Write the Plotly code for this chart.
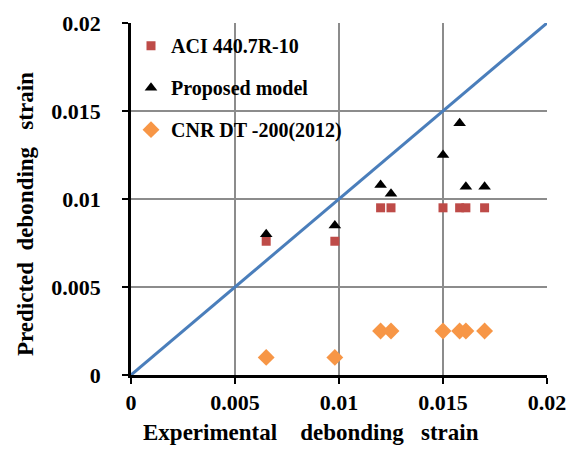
import plotly.graph_objects as go

exp_strain = [0.0065, 0.0098, 0.012, 0.0125, 0.015, 0.0158, 0.0161, 0.017]
aci_pred = [0.0076, 0.0076, 0.0095, 0.0095, 0.0095, 0.0095, 0.0095, 0.0095]
proposed_pred = [0.0080, 0.0085, 0.0108, 0.0103, 0.0125, 0.0143, 0.0107, 0.0107]
cnr_pred = [0.0010, 0.0010, 0.0025, 0.0025, 0.0025, 0.0025, 0.0025, 0.0025]
line_x = [0, 0.02]
line_y = [0, 0.02]
tick_vals = [0, 0.005, 0.01, 0.015, 0.02]

FONT = "Liberation Serif"

fig = go.Figure()
fig.add_trace(go.Scatter(x=line_x, y=line_y, mode="lines",
                         line=dict(color="#4A7EBB", width=3), showlegend=False))
fig.add_trace(go.Scatter(x=exp_strain, y=aci_pred, mode="markers", name="ACI 440.7R-10",
                         legendgroup="a",
                         marker=dict(symbol="square", size=9, color="#BE4B48")))
fig.add_trace(go.Scatter(x=exp_strain, y=proposed_pred, mode="markers", name="Proposed model",
                         legendgroup="b",
                         marker=dict(symbol="triangle-up", size=11, color="black")))
fig.add_trace(go.Scatter(x=exp_strain, y=cnr_pred, mode="markers", name="CNR DT -200(2012)",
                         legendgroup="c",
                         marker=dict(symbol="diamond", size=13, color="#F79646")))

# white backdrop behind legend (covers grid lines like the original)
fig.add_shape(type="rect", xref="paper", yref="paper",
              x0=0.026, x1=0.52, y0=0.665, y1=0.995,
              fillcolor="white", line=dict(width=0), layer="between")

axis_common = dict(
    range=[0, 0.02], tickvals=tick_vals, automargin=False,
    showgrid=True, gridcolor="#8C8C8C", gridwidth=1.5,
    showline=True, linecolor="black", linewidth=2.5,
    ticks="outside", ticklen=6, tickwidth=2, tickcolor="black",
    zeroline=False, ticklabeloverflow="allow",
    tickfont=dict(family=FONT, size=22, color="black", weight="bold"),
)

fig.update_xaxes(**axis_common, ticklabelstandoff=0)
fig.update_yaxes(**axis_common, ticklabelstandoff=17)

title_font = dict(family=FONT, size=23, color="black", weight="bold")
fig.add_annotation(text="Experimental&nbsp;&nbsp;&nbsp;&nbsp;debonding&nbsp;&nbsp;&nbsp;strain",
                   xref="paper", yref="paper", x=0.433, y=-0.162,
                   xanchor="center", yanchor="middle", showarrow=False, font=title_font)
fig.add_annotation(text="Predicted&nbsp;&nbsp;debonding&nbsp;&nbsp;&nbsp;strain",
                   xref="paper", yref="paper", x=-0.255, y=0.457, textangle=-90,
                   xanchor="center", yanchor="middle", showarrow=False, font=title_font)

fig.update_layout(
    width=581, height=450,
    margin=dict(l=123, r=42, t=15, b=83),
    plot_bgcolor="white", paper_bgcolor="white",
    legend=dict(x=0.0, y=0.991, xanchor="left", yanchor="top",
                bgcolor="rgba(0,0,0,0)", tracegroupgap=13,
                font=dict(family=FONT, size=20, color="black", weight="bold")),
)

fig.write_html("out.html")
